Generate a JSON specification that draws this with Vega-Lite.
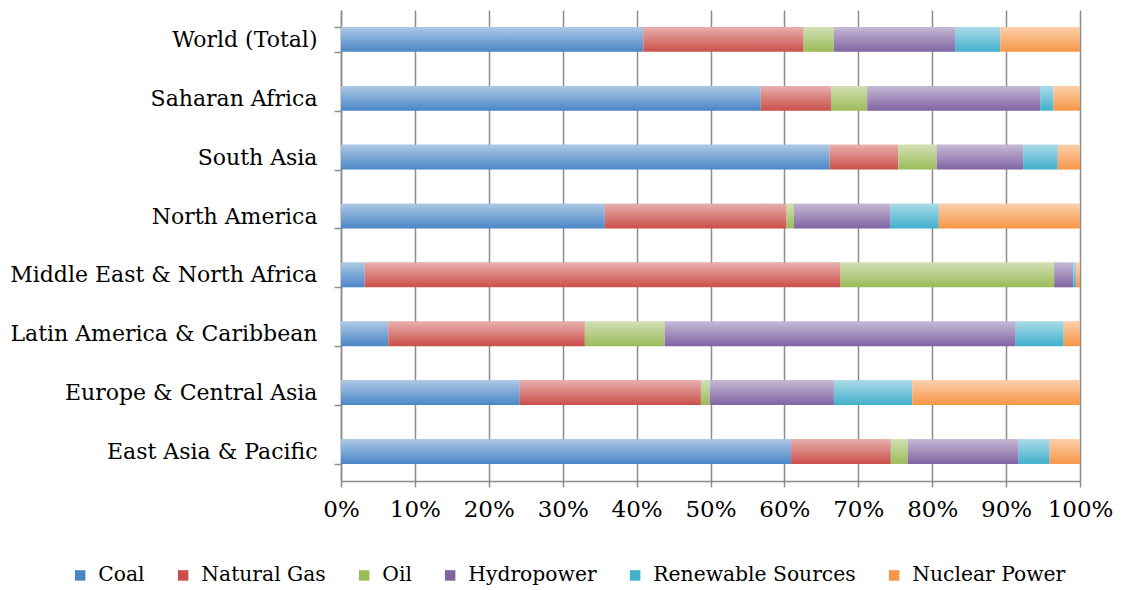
{
  "$schema": "https://vega.github.io/schema/vega-lite/v6.json",
  "width": 739,
  "height": 471,
  "autosize": {"type": "none"},
  "padding": {"left": 341, "top": 10, "right": 42, "bottom": 109},
  "background": "white",
  "config": {
    "view": {"stroke": null},
    "font": "DejaVu Serif",
    "axis": {"labelFont": "DejaVu Serif", "labelColor": "#000", "labelLimit": 400},
    "legend": {"labelFont": "DejaVu Serif", "labelFontSize": 20.3, "labelColor": "#000", "labelLimit": 400}
  },
  "data": {
    "values": [
      {"region": "World (Total)", "source": "Coal", "ord": 1, "value": 40.9},
      {"region": "World (Total)", "source": "Natural Gas", "ord": 2, "value": 21.7},
      {"region": "World (Total)", "source": "Oil", "ord": 3, "value": 4.1},
      {"region": "World (Total)", "source": "Hydropower", "ord": 4, "value": 16.4},
      {"region": "World (Total)", "source": "Renewable Sources", "ord": 5, "value": 6.1},
      {"region": "World (Total)", "source": "Nuclear Power", "ord": 6, "value": 10.8},
      {"region": "Saharan Africa", "source": "Coal", "ord": 1, "value": 56.8},
      {"region": "Saharan Africa", "source": "Natural Gas", "ord": 2, "value": 9.5},
      {"region": "Saharan Africa", "source": "Oil", "ord": 3, "value": 4.9},
      {"region": "Saharan Africa", "source": "Hydropower", "ord": 4, "value": 23.4},
      {"region": "Saharan Africa", "source": "Renewable Sources", "ord": 5, "value": 1.8},
      {"region": "Saharan Africa", "source": "Nuclear Power", "ord": 6, "value": 3.6},
      {"region": "South Asia", "source": "Coal", "ord": 1, "value": 66.1},
      {"region": "South Asia", "source": "Natural Gas", "ord": 2, "value": 9.3},
      {"region": "South Asia", "source": "Oil", "ord": 3, "value": 5.2},
      {"region": "South Asia", "source": "Hydropower", "ord": 4, "value": 11.7},
      {"region": "South Asia", "source": "Renewable Sources", "ord": 5, "value": 4.7},
      {"region": "South Asia", "source": "Nuclear Power", "ord": 6, "value": 3.0},
      {"region": "North America", "source": "Coal", "ord": 1, "value": 35.7},
      {"region": "North America", "source": "Natural Gas", "ord": 2, "value": 24.6},
      {"region": "North America", "source": "Oil", "ord": 3, "value": 1.0},
      {"region": "North America", "source": "Hydropower", "ord": 4, "value": 13.0},
      {"region": "North America", "source": "Renewable Sources", "ord": 5, "value": 6.6},
      {"region": "North America", "source": "Nuclear Power", "ord": 6, "value": 19.1},
      {"region": "Middle East & North Africa", "source": "Coal", "ord": 1, "value": 3.2},
      {"region": "Middle East & North Africa", "source": "Natural Gas", "ord": 2, "value": 64.4},
      {"region": "Middle East & North Africa", "source": "Oil", "ord": 3, "value": 28.9},
      {"region": "Middle East & North Africa", "source": "Hydropower", "ord": 4, "value": 2.6},
      {"region": "Middle East & North Africa", "source": "Renewable Sources", "ord": 5, "value": 0.4},
      {"region": "Middle East & North Africa", "source": "Nuclear Power", "ord": 6, "value": 0.5},
      {"region": "Latin America & Caribbean", "source": "Coal", "ord": 1, "value": 6.4},
      {"region": "Latin America & Caribbean", "source": "Natural Gas", "ord": 2, "value": 26.6},
      {"region": "Latin America & Caribbean", "source": "Oil", "ord": 3, "value": 10.8},
      {"region": "Latin America & Caribbean", "source": "Hydropower", "ord": 4, "value": 47.5},
      {"region": "Latin America & Caribbean", "source": "Renewable Sources", "ord": 5, "value": 6.5},
      {"region": "Latin America & Caribbean", "source": "Nuclear Power", "ord": 6, "value": 2.2},
      {"region": "Europe & Central Asia", "source": "Coal", "ord": 1, "value": 24.2},
      {"region": "Europe & Central Asia", "source": "Natural Gas", "ord": 2, "value": 24.5},
      {"region": "Europe & Central Asia", "source": "Oil", "ord": 3, "value": 1.2},
      {"region": "Europe & Central Asia", "source": "Hydropower", "ord": 4, "value": 16.8},
      {"region": "Europe & Central Asia", "source": "Renewable Sources", "ord": 5, "value": 10.6},
      {"region": "Europe & Central Asia", "source": "Nuclear Power", "ord": 6, "value": 22.7},
      {"region": "East Asia & Pacific", "source": "Coal", "ord": 1, "value": 60.9},
      {"region": "East Asia & Pacific", "source": "Natural Gas", "ord": 2, "value": 13.5},
      {"region": "East Asia & Pacific", "source": "Oil", "ord": 3, "value": 2.3},
      {"region": "East Asia & Pacific", "source": "Hydropower", "ord": 4, "value": 15.0},
      {"region": "East Asia & Pacific", "source": "Renewable Sources", "ord": 5, "value": 4.2},
      {"region": "East Asia & Pacific", "source": "Nuclear Power", "ord": 6, "value": 4.1}
    ]
  },
  "encoding": {
    "y": {
      "field": "region",
      "type": "nominal",
      "sort": ["World (Total)", "Saharan Africa", "South Asia", "North America", "Middle East & North Africa", "Latin America & Caribbean", "Europe & Central Asia", "East Asia & Pacific"],
      "scale": {"paddingInner": 0.58, "paddingOuter": 0.29},
      "axis": {
        "title": null,
        "labelFontSize": 22,
        "tickBand": "extent",
        "tickSize": 7,
        "tickColor": "#8c8c8c",
        "tickWidth": 1.5,
        "domainColor": "#8c8c8c",
        "domainWidth": 1.5,
        "labelPadding": 17,
        "grid": false
      }
    },
    "x": {
      "field": "value",
      "type": "quantitative",
      "stack": "normalize",
      "scale": {"domain": [0, 1], "nice": false},
      "axis": {
        "title": null,
        "labelFontSize": 23,
        "format": ".0%",
        "values": [0, 0.1, 0.2, 0.3, 0.4, 0.5, 0.6, 0.7, 0.8, 0.9, 1],
        "grid": true,
        "gridColor": "#8c8c8c",
        "gridWidth": 1.5,
        "tickColor": "#8c8c8c",
        "tickWidth": 1.5,
        "tickSize": 6,
        "domainColor": "#8c8c8c",
        "domainWidth": 1.5,
        "labelPadding": 11,
        "labelFlush": false
      }
    },
    "order": {"field": "ord", "type": "quantitative"}
  },
  "layer": [
    {
      "mark": {"type": "bar"},
      "encoding": {
        "color": {
          "field": "source",
          "type": "nominal",
          "sort": ["Coal", "Natural Gas", "Oil", "Hydropower", "Renewable Sources", "Nuclear Power"],
          "scale": {
            "domain": ["Coal", "Natural Gas", "Oil", "Hydropower", "Renewable Sources", "Nuclear Power"],
            "range": ["#4a86c6", "#cb4f49", "#9bbb59", "#8064a2", "#42afcc", "#f79646"]
          },
          "legend": {
            "title": null,
            "orient": "none",
            "direction": "horizontal",
            "legendX": -271,
            "legendY": 555,
            "symbolType": "square",
            "symbolSize": 110,
            "symbolStrokeWidth": 0,
            "labelOffset": 8,
            "columnPadding": 28
          }
        }
      }
    },
    {
      "mark": {
        "type": "bar",
        "fill": {
          "gradient": "linear",
          "x1": 0, "y1": 0, "x2": 0, "y2": 1,
          "stops": [
            {"offset": 0, "color": "rgba(255,255,255,0.55)"},
            {"offset": 1, "color": "rgba(255,255,255,0)"}
          ]
        }
      },
      "encoding": {"detail": {"field": "source"}}
    }
  ]
}
